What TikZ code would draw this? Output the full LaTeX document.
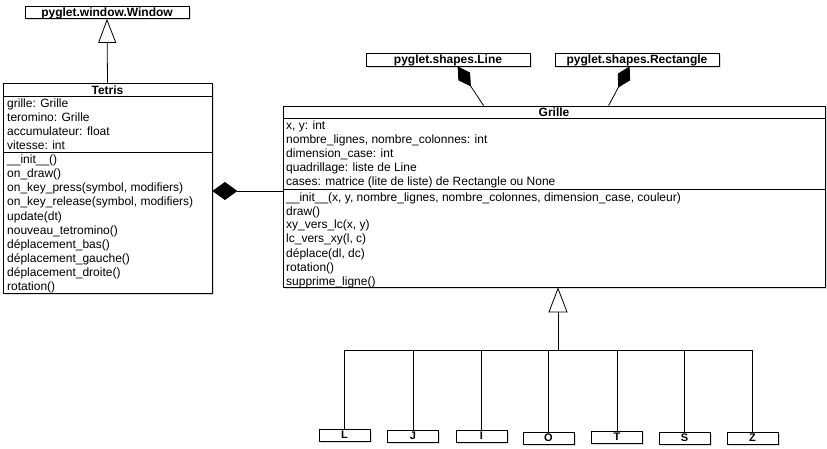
\documentclass[tikz,border=0pt]{standalone}
\usepackage{fontspec}
\setmainfont{Liberation Sans}
\usetikzlibrary{arrows.meta,shadows,calc}
\begin{document}
\begin{tikzpicture}[x=1pt,y=-1pt,
  font=\fontsize{12}{14}\selectfont,
  classbox/.style={draw,line width=0.8pt,fill=white,inner sep=0pt,
    drop shadow={shadow xshift=1.6pt,shadow yshift=-1.6pt,opacity=0.28}},
  namebox/.style={classbox,font=\bfseries\fontsize{12}{14}\selectfont,
    text height=8.6pt,text depth=0pt,minimum height=12pt},
  subbox/.style={classbox,font=\bfseries\fontsize{11}{13}\selectfont,
    text height=7.9pt,text depth=0pt,minimum width=51pt,minimum height=12pt},
  member/.style={anchor=base west,inner sep=0pt},
  title/.style={anchor=base,inner sep=0pt,font=\bfseries\fontsize{12}{14}\selectfont},
  link/.style={line width=0.8pt},
  inherit/.style={link,-{Triangle[open,length=24pt,width=18pt,line width=0.8pt,fill=white]}},
  owns/.style={link,-{Diamond[length=25pt,width=18pt]}},
  ownsthin/.style={link,-{Diamond[length=24pt,width=14pt]}},
]
\useasboundingbox (0,0) rectangle (827,449);

% external pyglet classes
\node[namebox,minimum width=164pt] (window) at (107,12.5) {pyglet.window.Window};
\node[namebox,minimum width=164pt,minimum height=13pt] (line) at (448,59.5) {pyglet.shapes.Line};
\node[namebox,minimum width=164pt,minimum height=13pt] (rect) at (637,59.5) {pyglet.shapes.Rectangle};

% class Tetris
\node[classbox,minimum width=209pt,minimum height=210pt] (tetris) at (107.5,188) {};
\draw[link] ($(tetris.north west)+(0,14)$) -- ($(tetris.north east)+(0,14)$);
\draw[link] ($(tetris.north west)+(0,70)$) -- ($(tetris.north east)+(0,70)$);
\node[title] (tetris-name) at (107.5,94.3) {Tetris};
\foreach \txt [count=\i from 0] in {grille: Grille, teromino: Grille,
    accumulateur: float, vitesse: int}
  \node[member] (tetris-a\i) at (7,108+14*\i) {\txt};
\foreach \txt [count=\i from 0] in {\_\_init\_\_(), on\_draw(),
    {on\_key\_press(symbol, modifiers)}, {on\_key\_release(symbol, modifiers)},
    update(dt), nouveau\_tetromino(), déplacement\_bas(),
    déplacement\_gauche(), déplacement\_droite(), rotation()}
  \node[member] (tetris-m\i) at (7,164+14*\i) {\txt};

% class Grille
\node[classbox,minimum width=542pt,minimum height=181pt] (grille) at (554,196.5) {};
\draw[link] ($(grille.north west)+(0,13)$) -- ($(grille.north east)+(0,13)$);
\draw[link] ($(grille.north west)+(0,84)$) -- ($(grille.north east)+(0,84)$);
\node[title] (grille-name) at (554,117) {Grille};
\foreach \txt [count=\i from 0] in {{x, y: int},
    {nombre\_lignes, nombre\_colonnes: int}, dimension\_case: int,
    quadrillage: liste de Line,
    cases: matrice (lite de liste) de Rectangle ou None}
  \node[member] (grille-a\i) at (286,130+14*\i) {\txt};
\foreach \txt [count=\i from 0] in
    {{\_\_init\_\_(x, y, nombre\_lignes, nombre\_colonnes, dimension\_case, couleur)},
    draw(), {xy\_vers\_lc(x, y)}, {lc\_vers\_xy(l, c)}, {déplace(dl, dc)},
    rotation(), supprime\_ligne()}
  \node[member] (grille-m\i) at (286,201+14*\i) {\txt};

% tetromino subclasses
\node[subbox] (L) at (344.5,435) {L};
\node[subbox] (J) at (413,436) {J};
\node[subbox] (I) at (481.5,436) {I};
\node[subbox] (O) at (548.5,438) {O};
\node[subbox] (T) at (617,437) {T};
\node[subbox] (S) at (684.5,438) {S};
\node[subbox] (Z) at (752.5,438) {Z};

% relations
\draw[inherit] (tetris.north) -- (window.south);
\coordinate (compy) at (0,191);
\draw[owns] (grille.west |- compy) -- (tetris.east |- compy);
\draw[ownsthin] ($(grille.north west)+(201,0)$) -- ($(line.south west)+(92,0)$);
\draw[ownsthin] ($(grille.north west)+(326,0)$) -- ($(rect.south west)+(75,0)$);
\coordinate (bus) at (558,350);
\draw[link,-{Triangle[open,length=25pt,width=19pt,line width=0.8pt,fill=white]}]
  (bus) -- (bus |- grille.south);
\foreach \k in {L,J,I,O,T,S,Z}
  \draw[link] (\k.north) |- (bus);
\end{tikzpicture}
\end{document}
